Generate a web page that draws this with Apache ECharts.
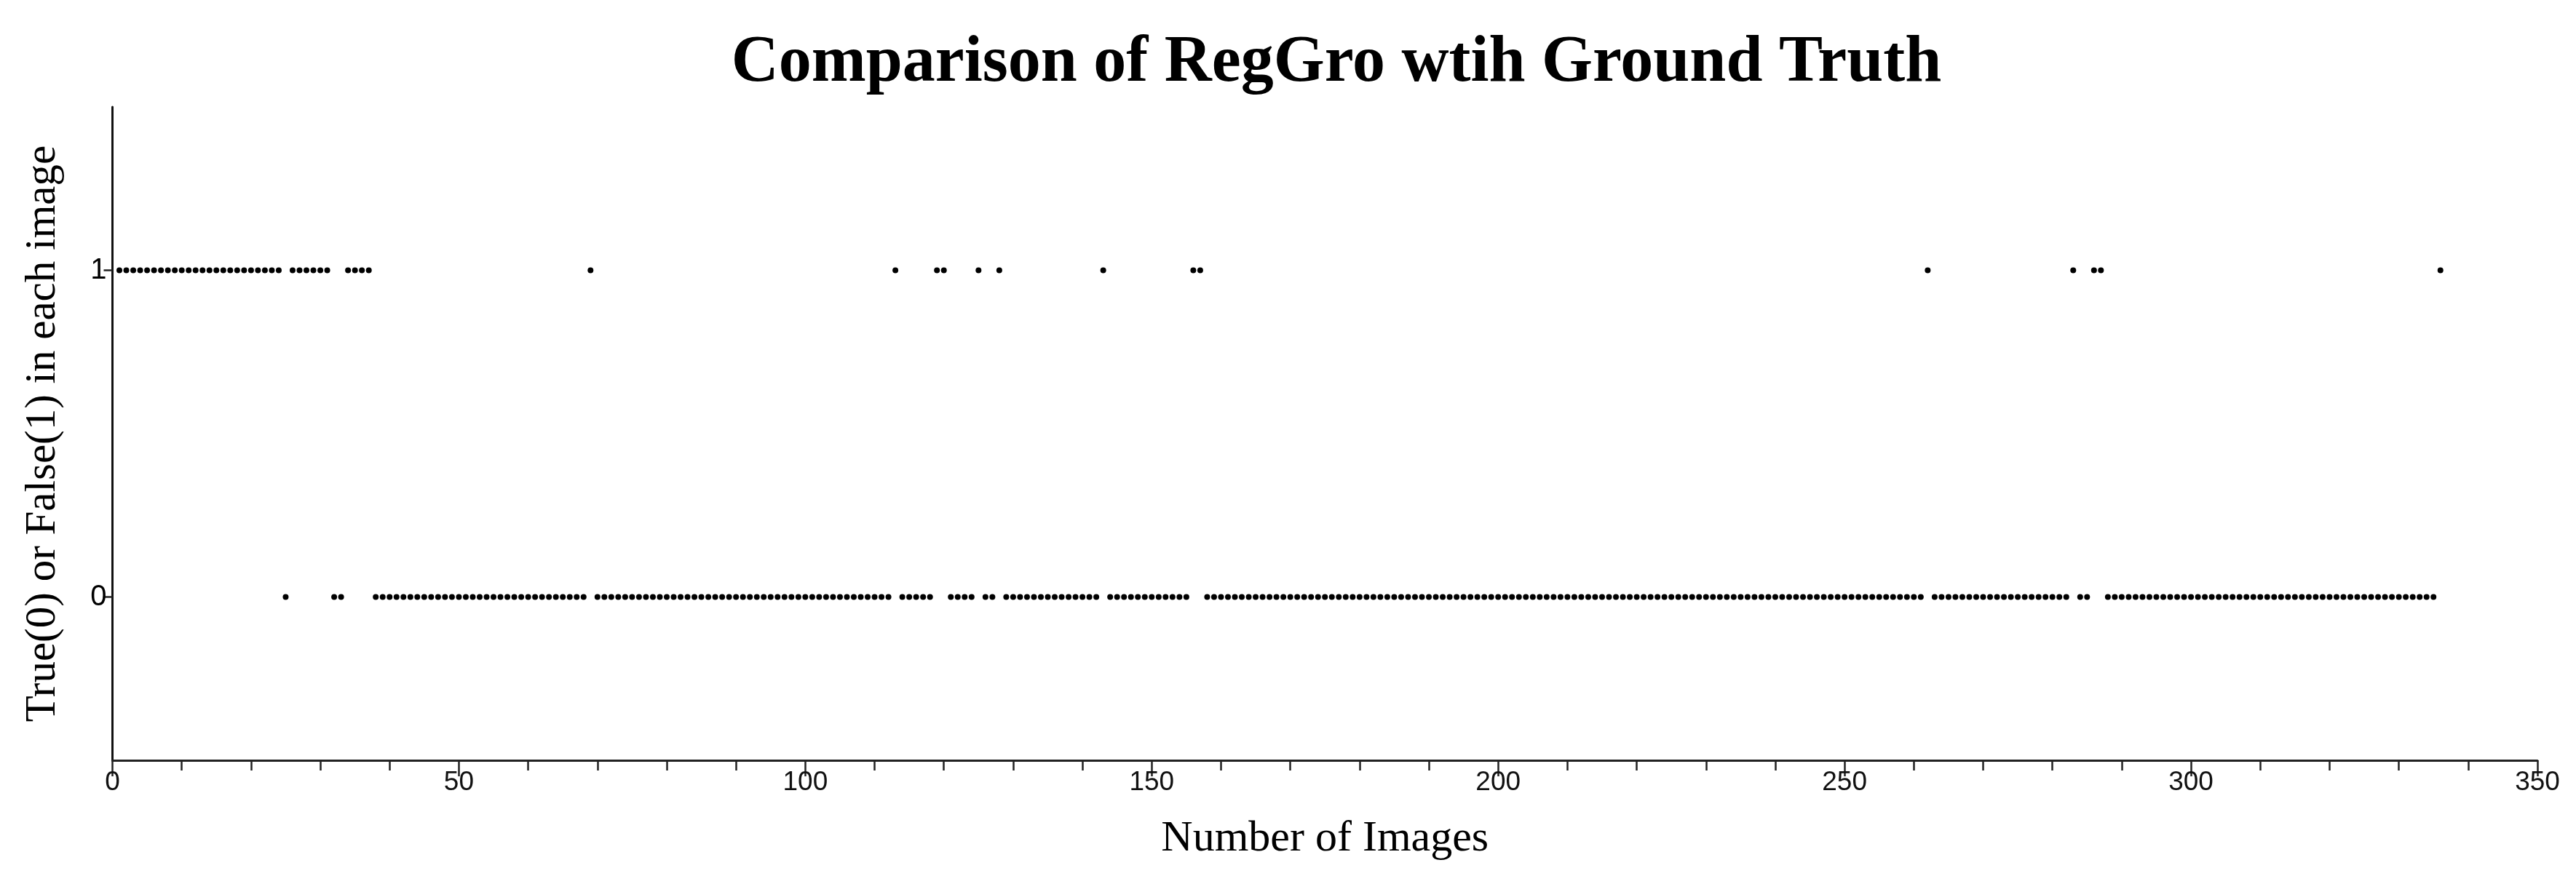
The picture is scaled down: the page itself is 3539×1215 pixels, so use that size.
<!DOCTYPE html>
<html><head><meta charset="utf-8">
<script src="https://cdn.jsdelivr.net/npm/echarts@6/dist/echarts.min.js"></script>
<style>html,body{margin:0;padding:0;background:#fff}#c{width:3539px;height:1215px}</style>
</head><body><div id="c"></div>
<script>
const titleText = 'Comparison of RegGro wtih Ground Truth';
const xAxisName = 'Number of Images';
const yAxisName = 'True(0) or False(1) in each image';
const xTickValues = [0, 50, 100, 150, 200, 250, 300, 350];
const yTickValues = [0, 1];
// result per image (image 1 .. 336): 1 = False, 0 = True
const results = [
  1,1,1,1,1,1,1,1,1,1,1,1,1,1,1,1,1,1,1,1,   // 1-20
  1,1,1,1,0,1,1,1,1,1,1,0,0,1,1,1,1,0,0,0,   // 21-40
  0,0,0,0,0,0,0,0,0,0,0,0,0,0,0,0,0,0,0,0,   // 41-60
  0,0,0,0,0,0,0,0,1,0,0,0,0,0,0,0,0,0,0,0,   // 61-80
  0,0,0,0,0,0,0,0,0,0,0,0,0,0,0,0,0,0,0,0,   // 81-100
  0,0,0,0,0,0,0,0,0,0,0,0,1,0,0,0,0,0,1,1,   // 101-120
  0,0,0,0,1,0,0,1,0,0,0,0,0,0,0,0,0,0,0,0,   // 121-140
  0,0,1,0,0,0,0,0,0,0,0,0,0,0,0,1,1,0,0,0,   // 141-160
  0,0,0,0,0,0,0,0,0,0,0,0,0,0,0,0,0,0,0,0,   // 161-180
  0,0,0,0,0,0,0,0,0,0,0,0,0,0,0,0,0,0,0,0,   // 181-200
  0,0,0,0,0,0,0,0,0,0,0,0,0,0,0,0,0,0,0,0,   // 201-220
  0,0,0,0,0,0,0,0,0,0,0,0,0,0,0,0,0,0,0,0,   // 221-240
  0,0,0,0,0,0,0,0,0,0,0,0,0,0,0,0,0,0,0,0,   // 241-260
  0,1,0,0,0,0,0,0,0,0,0,0,0,0,0,0,0,0,0,0,   // 261-280
  0,0,1,0,0,1,1,0,0,0,0,0,0,0,0,0,0,0,0,0,   // 281-300
  0,0,0,0,0,0,0,0,0,0,0,0,0,0,0,0,0,0,0,0,   // 301-320
  0,0,0,0,0,0,0,0,0,0,0,0,0,0,0,1            // 321-336
];

const chart = echarts.init(document.getElementById('c'), null, {renderer: 'canvas'});
const points = results.map((v, i) => [i + 1, v]);

chart.setOption({
  backgroundColor: '#ffffff',
  animation: false,
  title: {
    text: titleText,
    left: 1831,
    top: 38,
    textAlign: 'center',
    textStyle: {fontFamily: 'Liberation Serif', fontWeight: 'bold', fontSize: 90, color: '#000'}
  },
  grid: {left: 154.5, right: 53, top: 147, bottom: 170, containLabel: false},
  xAxis: {
    type: 'value', min: 0, max: 350, interval: 50,
    name: xAxisName, nameLocation: 'middle', nameGap: 78,
    nameTextStyle: {fontFamily: 'Liberation Serif', fontSize: 60, color: '#000'},
    axisLine: {show: true, onZero: false, lineStyle: {color: '#222', width: 3}},
    axisTick: {show: true, inside: false, length: 22, lineStyle: {color: '#222', width: 2.5}, customValues: xTickValues},
    minorTick: {show: true, splitNumber: 5, length: 14, lineStyle: {color: '#222', width: 2.5}},
    axisLabel: {fontFamily: 'Liberation Sans', fontSize: 37, color: '#111', margin: 12, customValues: xTickValues},
    splitLine: {show: false}, minorSplitLine: {show: false}
  },
  yAxis: {
    type: 'value', min: -0.5, max: 1.5,
    name: yAxisName, nameLocation: 'middle', nameGap: 66, nameRotate: 90,
    nameTextStyle: {fontFamily: 'Liberation Serif', fontSize: 59, color: '#000'},
    axisLine: {show: true, onZero: false, lineStyle: {color: '#111', width: 3}},
    axisTick: {show: true, inside: false, length: 12, lineStyle: {color: '#222', width: 2.5}, customValues: yTickValues},
    axisLabel: {fontFamily: 'Liberation Sans', fontSize: 40, color: '#000', margin: 8, customValues: yTickValues},
    splitLine: {show: false}
  },
  series: [{
    type: 'scatter',
    data: points,
    symbol: 'circle',
    symbolSize: 8,
    itemStyle: {color: '#000', opacity: 1},
    silent: true
  }]
});
</script>
</body></html>
